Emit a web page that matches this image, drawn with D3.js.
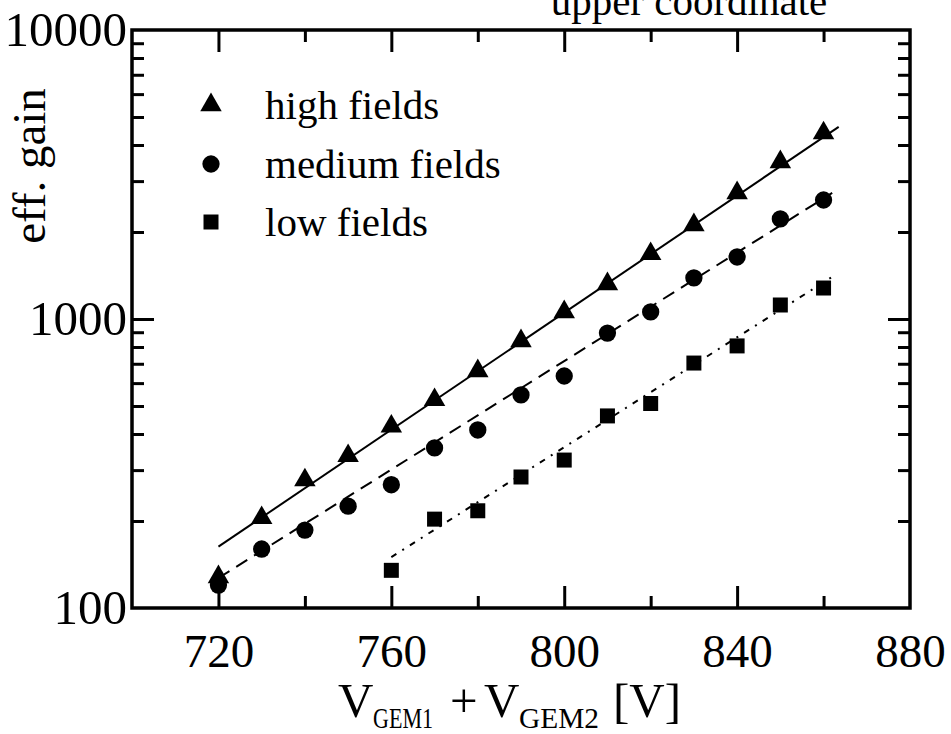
<!DOCTYPE html>
<html>
<head>
<meta charset="utf-8">
<script src="https://cdn.jsdelivr.net/npm/d3@7"></script>
<style>
  html, body { margin: 0; padding: 0; background: #fff; }
  svg { display: block; }
  text { font-family: "Liberation Serif", "Times New Roman", serif; fill: #000; }
</style>
</head>
<body>
<svg id="chart" width="951" height="734"></svg>
<script>
// ---------- data ----------
const voltsHigh   = [720, 730, 740, 750, 760, 770, 780, 790, 800, 810, 820, 830, 840, 850, 860];
const gainHigh    = [128, 205, 277, 336, 425, 525, 661, 839, 1058, 1322, 1680, 2115, 2729, 3494, 4400];
const voltsMedium = [720, 730, 740, 750, 760, 770, 780, 790, 800, 810, 820, 830, 840, 850, 860];
const gainMedium  = [120, 160, 186, 225, 267, 358, 413, 546, 635, 894, 1058, 1387, 1639, 2219, 2581];
const voltsLow    = [760, 770, 780, 790, 800, 810, 820, 830, 840, 850, 860];
const gainLow     = [135, 203, 217, 284, 325, 462, 510, 704, 807, 1118, 1280];
// exponential fit lines (end points)
const fitHighV   = [720, 863.5];  const fitHighG   = [163, 4620];
const fitMediumV = [720, 862];    const fitMediumG = [127, 2730];
const fitLowV    = [760, 863];    const fitLowG    = [150, 1430];

const xMajorTicks = [720, 760, 800, 840, 880];
const xMinorTicks = [740, 780, 820, 860];
const yMajorTicks = [100, 1000, 10000];
const yMinorTicks = [200, 300, 400, 500, 600, 700, 800, 900, 2000, 3000, 4000, 5000, 6000, 7000, 8000, 9000];
const legendLabels = ["high fields", "medium fields", "low fields"];
const titleText = "upper coordinate";
const yTitle = "eff. gain";

// ---------- layout ----------
const L = 132, R = 910, T = 30, B = 608;
const svg = d3.select("#chart");
const x = d3.scaleLinear().domain([700, 880]).range([L, R]);
const y = d3.scaleLog().domain([100, 10000]).range([B, T]);

const MAJ = 22, MIN = 12, TW = 3;

function styleAxis(fs) {
  return g => {
    g.select(".domain").remove();
    g.selectAll(".tick line").attr("stroke", "#000").attr("stroke-width", TW);
    g.selectAll(".tick text").style("font-size", fs + "px").style("font-family", '"Liberation Serif", serif');
  };
}

// bottom axis (labels)
svg.append("g").attr("transform", `translate(0,${B})`)
  .call(d3.axisBottom(x).tickValues(xMajorTicks).tickSize(-MAJ).tickPadding(26).tickFormat(d3.format("d")))
  .call(styleAxis(47))
  .call(g => g.selectAll(".tick").filter(d => d === 880).select("line").remove());
svg.append("g").attr("transform", `translate(0,${B})`)
  .call(d3.axisBottom(x).tickValues(xMinorTicks).tickSize(-MIN).tickFormat(""))
  .call(styleAxis(47));
// top axis
svg.append("g").attr("transform", `translate(0,${T})`)
  .call(d3.axisTop(x).tickValues(xMajorTicks.filter(d => d < 880)).tickSize(-MAJ).tickFormat(""))
  .call(styleAxis(47));
svg.append("g").attr("transform", `translate(0,${T})`)
  .call(d3.axisTop(x).tickValues(xMinorTicks).tickSize(-MIN).tickFormat(""))
  .call(styleAxis(47));
// left axis
svg.append("g").attr("transform", `translate(${L},0)`)
  .call(d3.axisLeft(y).tickValues(yMajorTicks).tickSize(-MAJ).tickPadding(5).tickFormat(d3.format("d")))
  .call(styleAxis(49))
  .call(g => g.selectAll(".tick").filter(d => d !== 1000).select("line").remove());
svg.append("g").attr("transform", `translate(${L},0)`)
  .call(d3.axisLeft(y).tickValues(yMinorTicks).tickSize(-MIN).tickFormat(""))
  .call(styleAxis(49));
// right axis
svg.append("g").attr("transform", `translate(${R},0)`)
  .call(d3.axisRight(y).tickValues([1000]).tickSize(-MAJ).tickFormat(""))
  .call(styleAxis(49));
svg.append("g").attr("transform", `translate(${R},0)`)
  .call(d3.axisRight(y).tickValues(yMinorTicks).tickSize(-MIN).tickFormat(""))
  .call(styleAxis(49));

// frame
svg.append("rect").attr("x", L).attr("y", T).attr("width", R - L).attr("height", B - T)
  .attr("fill", "none").attr("stroke", "#000").attr("stroke-width", 3.5);

// fit lines
const line = d3.line().x(d => x(d[0])).y(d => y(d[1]));
const fits = [
  { v: fitHighV, g: fitHighG, dash: null },
  { v: fitMediumV, g: fitMediumG, dash: "13,8" },
  { v: fitLowV, g: fitLowG, dash: "6,7,2,7" }
];
fits.forEach(f => {
  svg.append("path").datum(d3.zip(f.v, f.g)).attr("d", line)
    .attr("fill", "none").attr("stroke", "#000").attr("stroke-width", 2)
    .attr("stroke-dasharray", f.dash);
});

// markers
const series = [
  { v: voltsHigh, g: gainHigh, sym: d3.symbolTriangle, size: 200 },
  { v: voltsMedium, g: gainMedium, sym: d3.symbolCircle, size: 235 },
  { v: voltsLow, g: gainLow, sym: d3.symbolSquare, size: 225 }
];
series.forEach(s => {
  svg.append("g").selectAll("path").data(d3.zip(s.v, s.g)).join("path")
    .attr("transform", d => `translate(${x(d[0])},${y(d[1])})`)
    .attr("d", d3.symbol().type(s.sym).size(s.size)).attr("fill", "#000");
});

// legend
const legY = [105, 164, 222];
legendLabels.forEach((lab, i) => {
  svg.append("path").attr("transform", `translate(211,${legY[i]})`)
    .attr("d", d3.symbol().type(series[i].sym).size(series[i].size)).attr("fill", "#000");
  svg.append("text").attr("x", 265).attr("y", legY[i] + 14).style("font-size", "41px").text(lab);
});

// title (cut at top)
svg.append("text").attr("x", 689).attr("y", 15).attr("text-anchor", "middle")
  .style("font-size", "41px").text(titleText);

// y title
svg.append("text").attr("transform", "translate(45,166) rotate(-90)").attr("text-anchor", "middle")
  .style("font-size", "47px").text(yTitle);

// x title: V_GEM1 + V_GEM2 [V]
const xtParts = [
  { t: "V",    x: 338, y: 717, fs: 49 },
  { t: "GEM1", x: 373, y: 728, fs: 30, len: 60 },
  { t: "+",    x: 450, y: 717, fs: 49 },
  { t: "V",    x: 484, y: 717, fs: 49 },
  { t: "GEM2", x: 519, y: 728, fs: 30, len: 80 },
  { t: "[V]",  x: 613, y: 717, fs: 49 }
];
xtParts.forEach(p => {
  const t = svg.append("text").attr("x", p.x).attr("y", p.y).style("font-size", p.fs + "px").text(p.t);
  if (p.len) t.attr("textLength", p.len).attr("lengthAdjust", "spacingAndGlyphs");
});
</script>
</body>
</html>
